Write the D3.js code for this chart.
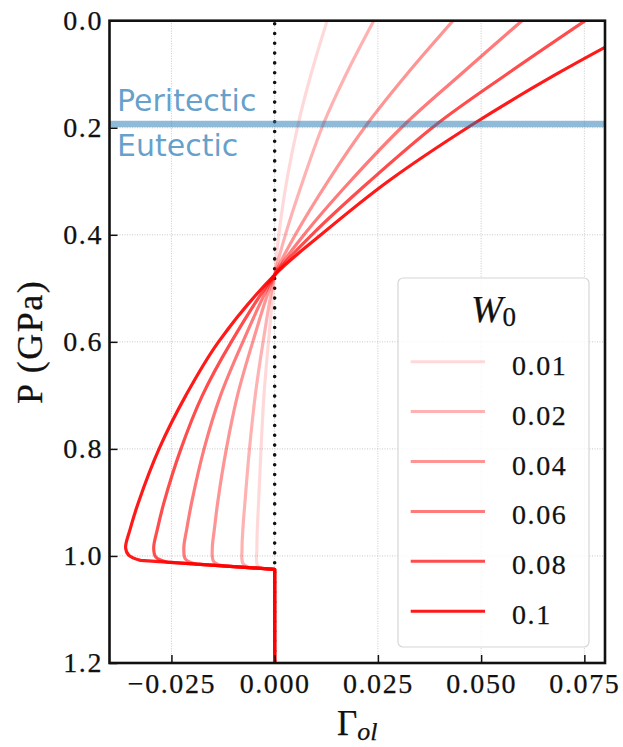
<!DOCTYPE html>
<html>
<head>
<meta charset="utf-8">
<script src="https://cdn.jsdelivr.net/npm/d3@7"></script>
<style>
    html, body { margin: 0; padding: 0; background: #fff; }
</style>
</head>
<body>
<div id="chart"></div>
<script>
// Pressure levels (GPa) at which every curve is sampled
var pressureGrid = [0, 0.1, 0.193, 0.3, 0.4, 0.475, 0.6, 0.7, 0.8, 0.9, 0.95, 0.985];

// Initial water content of each run, and the legend text for it
var w0Values = [0.01, 0.02, 0.04, 0.06, 0.08, 0.1];
var w0Labels = ["0.01", "0.02", "0.04", "0.06", "0.08", "0.1"];

// Gamma_ol on pressureGrid, one list per W0
var gamma001 = [0.0127, 0.0088, 0.0057, 0.0029, 0.0010, 0, -0.0015, -0.0026, -0.0033, -0.0039, -0.0042, -0.0043];
var gamma002 = [0.0240, 0.0173, 0.0118, 0.0068, 0.0026, 0, -0.0028, -0.0047, -0.0061, -0.0072, -0.0077, -0.0079];
var gamma004 = [0.0432, 0.0320, 0.0224, 0.0129, 0.0050, 0, -0.0053, -0.0090, -0.0117, -0.0138, -0.0146, -0.0151];
var gamma006 = [0.0599, 0.0451, 0.0316, 0.0183, 0.0071, 0, -0.0077, -0.0131, -0.0171, -0.0201, -0.0213, -0.0220];
var gamma008 = [0.0752, 0.0562, 0.0393, 0.0230, 0.0090, 0, -0.0105, -0.0175, -0.0227, -0.0268, -0.0284, -0.0293];
var gamma010 = [0.0920, 0.0682, 0.0481, 0.0275, 0.0112, 0, -0.0136, -0.0215, -0.0280, -0.0330, -0.0350, -0.0361];

// Turn-around near 1 GPa, before each curve joins the common branch
var hookPressure = [[1.017, 1.0235], [1.014, 1.0219], [1.010, 1.0186], [1.006, 1.0152], [1.002, 1.0116], [0.999, 1.0083]];
var hookGamma = [[-0.0042, -0.0030], [-0.0077, -0.0060], [-0.0148, -0.0125], [-0.0216, -0.0190], [-0.0288, -0.0260], [-0.0353, -0.0325]];

// Common branch shared by all runs
var tailPressure = [1.025, 1.2];
var tailGamma = [0, 0];

// Peritectic / eutectic transition pressure
var phaseBoundaryP = 0.193;

// Axis ticks
var xTicks = [-0.025, 0, 0.025, 0.05, 0.075];
var xTickLabels = ["\u22120.025", "0.000", "0.025", "0.050", "0.075"];
var yTicks = [0, 0.2, 0.4, 0.6, 0.8, 1.0, 1.2];
var yTickLabels = ["0.0", "0.2", "0.4", "0.6", "0.8", "1.0", "1.2"];

var gammaSeries = [gamma001, gamma002, gamma004, gamma006, gamma008, gamma010];

var width = 623, height = 747;
var margin = {top: 20.7, right: 18, bottom: 84, left: 109.5};
var plotW = width - margin.left - margin.right;
var plotH = height - margin.top - margin.bottom;

var serif = "'Liberation Serif', 'Times New Roman', serif";
var ink = "#111";

var xScale = d3.scaleLinear().domain([-0.04, 0.08]).range([0, plotW]);
var yScale = d3.scaleLinear().domain([0, 1.2]).range([0, plotH]);
var opacityScale = d3.scaleOrdinal().domain(w0Values).range([0.15, 0.3, 0.42, 0.52, 0.7, 0.9]);
var blue = "#1f77b4";

// serif text, thickened a little with a hairline stroke
function serifStyle(sel, size) {
    sel.style("font-family", serif)
        .style("font-size", size + "px")
        .style("fill", ink)
        .style("stroke", ink)
        .style("stroke-width", 0.25);
}

// number labels used on the axes and in the legend
function numberStyle(sel) {
    serifStyle(sel, 28);
    sel.style("letter-spacing", "1.6px");
}

var svg = d3.select("#chart").append("svg")
    .attr("width", width)
    .attr("height", height);

svg.append("defs").append("clipPath").attr("id", "plot-clip")
    .append("rect").attr("width", plotW).attr("height", plotH);

var g = svg.append("g").attr("transform", "translate(" + margin.left + "," + margin.top + ")");

// dotted grid
var grid = g.append("g").attr("class", "grid");
grid.selectAll(".gx").data(xTicks).enter().append("line")
    .attr("x1", function (d) { return xScale(d); })
    .attr("x2", function (d) { return xScale(d); })
    .attr("y1", 0).attr("y2", plotH);
grid.selectAll(".gy").data(yTicks).enter().append("line")
    .attr("y1", function (d) { return yScale(d); })
    .attr("y2", function (d) { return yScale(d); })
    .attr("x1", 0).attr("x2", plotW);
grid.selectAll("line")
    .attr("stroke", "#c8c8c8")
    .attr("stroke-width", 1)
    .attr("stroke-dasharray", "1,1.5");

// zero line
g.append("line")
    .attr("x1", xScale(0)).attr("x2", xScale(0))
    .attr("y1", yScale(0) + 3).attr("y2", plotH)
    .attr("stroke", ink)
    .attr("stroke-width", 3.6)
    .attr("stroke-linecap", "round")
    .attr("stroke-dasharray", "0,9.8");

// curves
var line = d3.line()
    .x(function (d) { return xScale(d.g); })
    .y(function (d) { return yScale(d.p); })
    .curve(d3.curveCatmullRom.alpha(0.5));

var curves = g.append("g").attr("clip-path", "url(#plot-clip)");
w0Values.forEach(function (w0, i) {
    var pts = pressureGrid.map(function (p, j) {
        return {p: p, g: gammaSeries[i][j]};
    });
    hookPressure[i].forEach(function (p, j) {
        pts.push({p: p, g: hookGamma[i][j]});
    });
    var d = line(pts);
    tailPressure.forEach(function (p, j) {
        d += "L" + xScale(tailGamma[j]) + "," + yScale(p);
    });
    curves.append("path")
        .attr("d", d)
        .attr("fill", "none")
        .attr("stroke", "#ff0000")
        .attr("stroke-opacity", opacityScale(w0))
        .attr("stroke-width", 3.2)
        .attr("stroke-linejoin", "round");
});

// phase boundary
g.append("line")
    .attr("x1", 0).attr("x2", plotW)
    .attr("y1", yScale(phaseBoundaryP)).attr("y2", yScale(phaseBoundaryP))
    .attr("stroke", blue)
    .attr("stroke-opacity", 0.5)
    .attr("stroke-width", 6.5);
g.append("text")
    .attr("x", 7.5).attr("y", yScale(phaseBoundaryP) - 12.5)
    .style("font-family", "'DejaVu Sans', sans-serif")
    .style("font-size", "30px")
    .style("fill", blue).style("fill-opacity", 0.7)
    .text("Peritectic");
g.append("text")
    .attr("x", 7.5).attr("y", yScale(phaseBoundaryP) + 32.5)
    .style("font-family", "'DejaVu Sans', sans-serif")
    .style("font-size", "30px")
    .style("fill", blue).style("fill-opacity", 0.7)
    .text("Eutectic");

// axes, ticks pointing inwards
var xAxis = d3.axisBottom(xScale)
    .tickValues(xTicks)
    .tickFormat(function (d, i) { return xTickLabels[i]; })
    .tickSizeInner(-8).tickSizeOuter(0).tickPadding(10);
var yAxis = d3.axisLeft(yScale)
    .tickValues(yTicks)
    .tickFormat(function (d, i) { return yTickLabels[i]; })
    .tickSizeInner(-8).tickSizeOuter(0).tickPadding(6.5);

var gx = g.append("g").attr("transform", "translate(0," + plotH + ")").call(xAxis);
var gy = g.append("g").call(yAxis);
[gx, gy].forEach(function (ax) {
    ax.attr("font-family", null).attr("font-size", null);
    ax.select(".domain").remove();
    ax.selectAll(".tick line").attr("stroke", ink).attr("stroke-width", 1.5);
    ax.selectAll(".tick text").call(numberStyle);
});

// frame
g.append("rect")
    .attr("width", plotW).attr("height", plotH)
    .attr("fill", "none")
    .attr("stroke", ink)
    .attr("stroke-width", 2.6);

// axis titles
svg.append("text")
    .attr("transform", "translate(42," + (margin.top + plotH / 2) + ") rotate(-90)")
    .attr("text-anchor", "middle")
    .call(serifStyle, 36)
    .style("letter-spacing", "1.5px")
    .text("P (GPa)");

var xTitle = svg.append("text")
    .attr("x", margin.left + plotW / 2)
    .attr("y", 735)
    .attr("text-anchor", "middle")
    .call(serifStyle, 35);
xTitle.append("tspan").text("\u0393");
xTitle.append("tspan").attr("dy", 5).style("font-size", "26px").style("font-style", "italic").text("ol");

// legend
var legend = g.append("g").attr("transform", "translate(" + (398 - margin.left) + "," + (278 - margin.top) + ")");
legend.append("rect")
    .attr("width", 191).attr("height", 369)
    .attr("rx", 5).attr("ry", 5)
    .attr("fill", "#fff").attr("fill-opacity", 0.8)
    .attr("stroke", "#d6d6d6").attr("stroke-width", 1.2);

var title = legend.append("text")
    .attr("x", 95.5).attr("y", 44)
    .attr("text-anchor", "middle")
    .call(serifStyle, 38);
title.append("tspan").style("font-style", "italic").text("W");
title.append("tspan").attr("dy", 4).style("font-size", "27px").text("0");

var entries = legend.selectAll(".entry").data(w0Values).enter().append("g")
    .attr("class", "entry")
    .attr("transform", function (d, i) { return "translate(0," + (83.7 + i * 49.9) + ")"; });
entries.append("line")
    .attr("x1", 12.7).attr("x2", 87)
    .attr("stroke", "#ff0000")
    .attr("stroke-opacity", function (d) { return opacityScale(d); })
    .attr("stroke-width", 3);
entries.append("text")
    .attr("x", 114).attr("y", 13)
    .call(numberStyle)
    .text(function (d, i) { return w0Labels[i]; });
</script>
</body>
</html>
